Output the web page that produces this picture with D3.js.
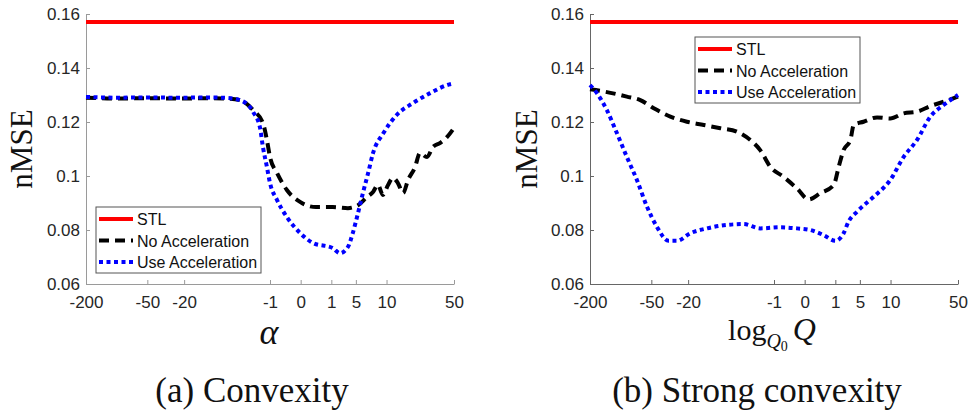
<!DOCTYPE html>
<html>
<head>
<meta charset="utf-8">
<script src="https://cdn.jsdelivr.net/npm/d3@7"></script>
<style>
  html, body { margin: 0; padding: 0; background: #fff; }
  svg { display: block; }
  .tick text { font-family: 'Liberation Sans', Arial, sans-serif; font-size: 17px; fill: #262626; }
  .legend text { font-family: 'Liberation Sans', Arial, sans-serif; font-size: 16px; fill: #111; }
</style>
</head>
<body>
<div id="chart"></div>
<script>
// x axis is an index axis: tick positions (in index units) and their labels
const xTickPos    = [0, 2, 3.2, 6, 7, 8, 8.8, 9.8, 12];
const xTickLabels = ['-200', '-50', '-20', '-1', '0', '1', '5', '10', '50'];
const yTicks      = [0.06, 0.08, 0.1, 0.12, 0.14, 0.16];
const yTickLabels = ['0.06', '0.08', '0.1', '0.12', '0.14', '0.16'];
const seriesNames = ['STL', 'No Acceleration', 'Use Acceleration'];

const stlValue = 0.157;

// (a) Convexity
const convNoAccX  = [0, 1, 2, 3, 4, 4.6, 5.02, 5.45, 5.77, 5.9, 6.0, 6.23, 6.55, 6.98, 7.5, 8.05, 8.54, 8.87, 9.16,
                     9.36, 9.52, 9.68, 9.85, 10.01, 10.17, 10.34, 10.5, 10.73, 10.89, 11.12, 11.31, 11.54, 11.77, 12];
const convNoAccY  = [0.1290, 0.1287, 0.1288, 0.1287, 0.1288, 0.1287, 0.1281, 0.1244, 0.1196, 0.1133, 0.1070, 0.1011, 0.0948, 0.0904, 0.0885, 0.0885, 0.0881, 0.0892, 0.0922,
                     0.0941, 0.0967, 0.0930, 0.0967, 0.0993, 0.0974, 0.0937, 0.0985, 0.1033, 0.1085, 0.1070, 0.1107, 0.1122, 0.1144, 0.1178];
const convUseAccX = [0, 1, 2, 3, 4, 4.6, 5.02, 5.45, 5.67, 5.77, 5.9, 6.0, 6.23, 6.55, 6.98, 7.4, 8.05, 8.28, 8.54, 8.7,
                     8.87, 9.03, 9.2, 9.36, 9.7, 10.13, 10.66, 11.22, 11.87, 12];
const convUseAccY = [0.1293, 0.1290, 0.1291, 0.1290, 0.1291, 0.1289, 0.1281, 0.1237, 0.1181, 0.1107, 0.1033, 0.0974, 0.0911, 0.0848, 0.0789, 0.0752, 0.0733, 0.0714, 0.0737, 0.0789,
                     0.0863, 0.0937, 0.1011, 0.1085, 0.1159, 0.1226, 0.1270, 0.1307, 0.1340, 0.1343];

// (b) Strong convexity
const strNoAccX  = [0, 0.45, 1.2, 1.64, 2.08, 2.62, 3.16, 3.71, 4.25, 4.79, 5.23, 5.55, 5.88, 6.31, 6.75, 7.13, 7.51, 7.95,
                    8.11, 8.27, 8.49, 8.6, 8.92, 9.36, 9.79, 10.23, 10.66, 11.1, 11.53, 12];
const strNoAccY  = [0.1321, 0.1313, 0.1294, 0.1281, 0.1251, 0.1220, 0.1201, 0.1189, 0.1177, 0.1164, 0.1133, 0.1096, 0.1034, 0.0997, 0.0954, 0.0913, 0.0936, 0.0967,
                    0.1034, 0.1096, 0.1133, 0.1189, 0.1201, 0.1217, 0.1213, 0.1232, 0.1238, 0.1259, 0.1275, 0.1294];
const strUseAccX = [0, 0.23, 0.55, 0.88, 1.2, 1.53, 1.86, 2.18, 2.56, 2.84, 3.27, 3.81, 4.47, 5.01, 5.55, 6.2, 6.75, 7.18,
                    7.62, 8.0, 8.27, 8.43, 8.71, 9.25, 9.79, 10.23, 10.66, 11.1, 11.53, 12];
const strUseAccY = [0.1337, 0.1306, 0.1244, 0.1158, 0.1071, 0.0985, 0.0886, 0.0812, 0.0760, 0.0760, 0.0788, 0.0806, 0.0819, 0.0822, 0.0806, 0.0810, 0.0806, 0.0800,
                    0.0781, 0.0760, 0.0788, 0.0831, 0.0868, 0.0923, 0.0985, 0.1071, 0.1133, 0.1220, 0.1263, 0.1300];

const W = 974, H = 418;
const svg = d3.select('#chart').append('svg').attr('width', W).attr('height', H);
svg.append('rect').attr('width', W).attr('height', H).attr('fill', '#fff');

const styles = [
  { color: '#ff0000', dash: null },
  { color: '#000000', dash: '10,6' },
  { color: '#0000ff', dash: '4,3.5' }
];

const zip = (xs, ys) => xs.map((x, i) => [x, ys[i]]);

function panel(opts) {
  const x = d3.scaleLinear().domain([0, 12]).range([opts.left, opts.left + 368]);
  const y = d3.scaleLinear().domain([0.06, 0.16]).range([284, 14]);
  const g = svg.append('g');

  // axes (MATLAB style: ticks inside)
  const xAxis = d3.axisBottom(x).tickValues(xTickPos)
    .tickFormat((d, i) => xTickLabels[i]).tickSizeInner(-4).tickSizeOuter(0).tickPadding(12);
  const yAxis = d3.axisLeft(y).tickValues(yTicks)
    .tickFormat((d, i) => yTickLabels[i]).tickSizeInner(-4).tickSizeOuter(0).tickPadding(6);

  const gx = g.append('g').attr('transform', 'translate(0,284)').call(xAxis);
  const gy = g.append('g').attr('transform', `translate(${opts.left},0)`).call(yAxis);
  [gx, gy].forEach(a => {
    a.select('.domain').attr('stroke', opts.axisColor);
    a.selectAll('.tick line').attr('stroke', opts.axisColor);
  });

  const line = d3.line().x(d => x(d[0])).y(d => y(d[1])).curve(d3.curveMonotoneX);

  // STL baseline
  g.append('path').datum([[0, stlValue], [12, stlValue]])
    .attr('d', line).attr('fill', 'none')
    .attr('stroke', styles[0].color).attr('stroke-width', 4);

  opts.series.forEach((s, i) => {
    g.append('path').datum(zip(s[0], s[1]))
      .attr('d', line).attr('fill', 'none')
      .attr('stroke', styles[i + 1].color).attr('stroke-width', 4)
      .attr('stroke-dasharray', styles[i + 1].dash);
  });

  // y label
  g.append('text')
    .attr('transform', `translate(${opts.yLabelX},149) rotate(-90)`)
    .attr('text-anchor', 'middle').attr('dy', '0.35em')
    .style('font-family', "'Liberation Serif', 'DejaVu Serif', serif")
    .style('font-size', '31px').attr('fill', '#111')
    .text('nMSE');

  // legend
  const lg = g.append('g').attr('class', 'legend');
  lg.append('rect').attr('x', opts.legend.x).attr('y', opts.legend.y)
    .attr('width', 165).attr('height', 66)
    .attr('fill', '#fff').attr('stroke', '#555').attr('stroke-width', 1);
  seriesNames.forEach((name, i) => {
    const ry = opts.legend.y + 12 + i * 21.5;
    lg.append('line')
      .attr('x1', opts.legend.x + 3).attr('x2', opts.legend.x + 37)
      .attr('y1', ry).attr('y2', ry)
      .attr('stroke', styles[i].color).attr('stroke-width', 4)
      .attr('stroke-dasharray', styles[i].dash);
    lg.append('text').attr('x', opts.legend.x + 41).attr('y', ry + 6).text(name);
  });

  // caption
  g.append('text')
    .attr('x', opts.captionX).attr('y', 402).attr('text-anchor', 'middle')
    .style('font-family', "'Liberation Serif', 'DejaVu Serif', serif")
    .style('font-size', '35px').attr('fill', '#111')
    .text(opts.caption);

  return g;
}

const gA = panel({
  left: 86, axisColor: '#9a9a9a', yLabelX: 21,
  legend: { x: 96, y: 207 },
  captionX: 252, caption: '(a) Convexity',
  series: [[convNoAccX, convNoAccY], [convUseAccX, convUseAccY]]
});
gA.append('text')
  .attr('x', 269).attr('y', 344).attr('text-anchor', 'middle')
  .style('font-family', "'Liberation Serif', 'DejaVu Serif', serif")
  .style('font-style', 'italic').style('font-size', '36px').attr('fill', '#111')
  .text('α');

const gB = panel({
  left: 590, axisColor: '#666', yLabelX: 526,
  legend: { x: 695, y: 37 },
  captionX: 757, caption: '(b) Strong convexity',
  series: [[strNoAccX, strNoAccY], [strUseAccX, strUseAccY]]
});
const xl = gB.append('text')
  .attr('x', 772).attr('y', 340).attr('text-anchor', 'middle')
  .style('font-family', "'Liberation Serif', 'DejaVu Serif', serif")
  .style('font-size', '30px').attr('fill', '#111');
xl.append('tspan').text('log');
xl.append('tspan').attr('dy', 8).style('font-style', 'italic').style('font-size', '20px').text('Q');
xl.append('tspan').attr('dy', 3).style('font-size', '14px').text('0');
xl.append('tspan').attr('dy', -11).attr('dx', 5).style('font-style', 'italic').style('font-size', '32px').text('Q');
</script>
</body>
</html>
